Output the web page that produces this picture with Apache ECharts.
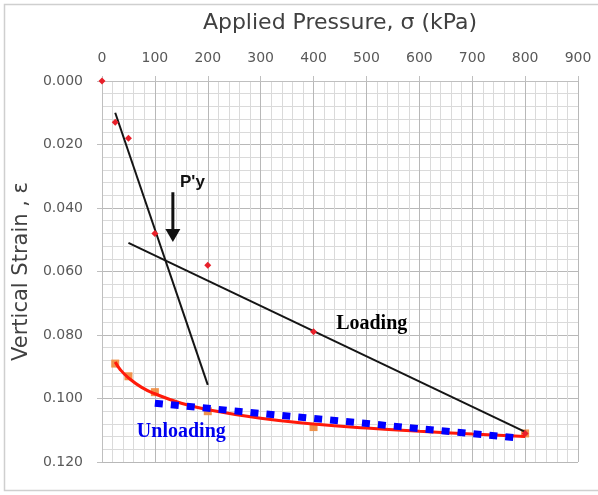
<!DOCTYPE html>
<html><head><meta charset="utf-8">
<script src="https://cdn.jsdelivr.net/npm/echarts@6/dist/echarts.min.js"></script>
<style>html,body{margin:0;padding:0;background:#fff}#c{width:598px;height:495px}</style>
</head><body><div id="c"></div>
<script>
// Loading test points (pressure kPa, strain)
const loadP = [0, 25, 50, 100, 200, 400, 800];
const loadE = [0.000, 0.013, 0.018, 0.048, 0.058, 0.079, 0.111];
// Unloading test points
const unloadP = [800, 400, 200, 100, 50, 25];
const unloadE = [0.111, 0.109, 0.104, 0.098, 0.093, 0.089];
// Red fitted unloading curve
const curveP = [25, 35, 50, 75, 100, 150, 200, 300, 400, 500, 600, 700, 800];
const curveE = [0.0885, 0.091, 0.0935, 0.0965, 0.0985, 0.1015, 0.1035, 0.1062, 0.108, 0.1093, 0.1103, 0.1112, 0.112];
// Black construction lines
const steepP = [25, 200];
const steepE = [0.010, 0.0957];
const flatP = [50, 800];
const flatE = [0.051, 0.1105];
// Blue dotted unloading line
const blueP = [100, 790];
const blueE = [0.1015, 0.1125];
// Arrow for P'y
const arrowP = [134, 134];
const arrowE = [0.035, 0.0487];
// Annotations
const notes = [
  {text: "P'y", p: 171, e: 0.0318, color: '#111', family: '"Liberation Sans", sans-serif', size: 17},
  {text: 'Loading', p: 510, e: 0.0765, color: '#000', family: '"Liberation Serif", serif', size: 20},
  {text: 'Unloading', p: 150, e: 0.1105, color: '#0000f0', family: '"Liberation Serif", serif', size: 20}
];
const xTicks = {min: 0, max: 900, interval: 100};
const yTicks = {min: 0, max: 0.12, interval: 0.02};

const zip = (a, b) => a.map((v, i) => [v, b[i]]);
const chart = echarts.init(document.getElementById('c'), null, {renderer: 'canvas'});
const labelFont = '"DejaVu Sans", sans-serif';
chart.setOption({
  animation: false,
  backgroundColor: '#fff',
  graphic: [{type: 'rect', shape: {x: 4.5, y: 4.5, width: 620, height: 486}, style: {fill: 'none', stroke: '#cfcfcf', lineWidth: 1.5}, z: -10}],
  grid: {left: 102, top: 81, right: 20, bottom: 33},
  xAxis: {
    type: 'value', position: 'top', min: xTicks.min, max: xTicks.max, interval: xTicks.interval,
    name: 'Applied Pressure, σ (kPa)', nameLocation: 'middle', nameGap: 47,
    nameTextStyle: {fontFamily: labelFont, fontSize: 22, color: '#404040'},
    axisLine: {show: true, lineStyle: {color: '#bfbfbf', width: 1}},
    axisTick: {show: true, length: 5, lineStyle: {color: '#bfbfbf'}},
    axisLabel: {fontFamily: labelFont, fontSize: 14, color: '#595959', margin: 16},
    splitLine: {show: true, lineStyle: {color: '#b8b8b8', width: 1}},
    minorTick: {show: false, splitNumber: 5},
    minorSplitLine: {show: true, lineStyle: {color: '#dadada', width: 1}}
  },
  yAxis: {
    type: 'value', inverse: true, min: yTicks.min, max: yTicks.max, interval: yTicks.interval,
    name: 'Vertical Strain , ε', nameLocation: 'middle', nameGap: 63,
    nameTextStyle: {fontFamily: labelFont, fontSize: 21, color: '#404040'},
    axisLine: {show: true, lineStyle: {color: '#bfbfbf', width: 1}},
    axisTick: {show: true, length: 5, lineStyle: {color: '#bfbfbf'}},
    axisLabel: {fontFamily: labelFont, fontSize: 14, color: '#595959', margin: 19, formatter: v => v.toFixed(3)},
    splitLine: {show: true, lineStyle: {color: '#b8b8b8', width: 1}},
    minorTick: {show: false, splitNumber: 5},
    minorSplitLine: {show: true, lineStyle: {color: '#dadada', width: 1}}
  },
  series: [
    {type: 'line', data: zip(steepP, steepE), symbol: 'none', lineStyle: {color: '#151515', width: 2}, z: 3},
    {type: 'line', data: zip(flatP, flatE), symbol: 'none', lineStyle: {color: '#151515', width: 2}, z: 3},
    {type: 'scatter', data: zip(unloadP, unloadE), symbol: 'rect', symbolSize: 8, itemStyle: {color: '#f0883a', opacity: 0.9}, z: 2},
    {type: 'line', data: zip(curveP, curveE), smooth: true, symbol: 'none', lineStyle: {color: '#ff1a0a', width: 3}, z: 4},
    {type: 'line', data: zip(blueP, blueE), symbol: 'none', lineStyle: {color: '#0000ff', width: 7, type: [8, 8], cap: 'butt'}, z: 5},
    {type: 'scatter', data: zip(loadP, loadE), symbol: 'diamond', symbolSize: 7, itemStyle: {color: '#e8202a', opacity: 1}, z: 6},
    {type: 'line', symbol: 'none', lineStyle: {color: '#111', width: 3}, z: 6,
     data: [ {value: [arrowP[0], arrowE[0]]},
             {value: [arrowP[1], arrowE[1]], symbol: 'triangle', symbolRotate: 180, symbolSize: [15, 13], itemStyle: {color: '#111'}} ]},
    {type: 'scatter', symbolSize: 0, z: 7, silent: true, itemStyle: {opacity: 1},
     data: notes.map(n => ({value: [n.p, n.e], label: {show: true, position: 'inside', formatter: n.text,
        color: n.color, fontFamily: n.family, fontSize: n.size, fontWeight: 'bold', opacity: 1}}))}
  ]
});
</script></body></html>
